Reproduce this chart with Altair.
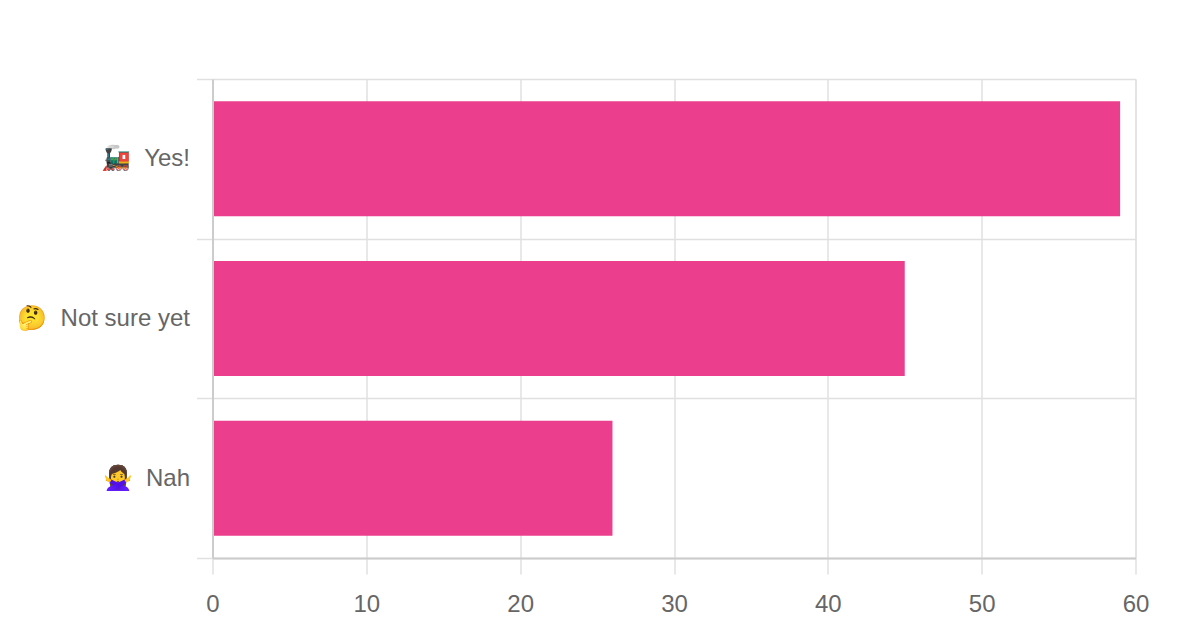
import altair as alt
import pandas as pd

labels = ["🚂\u00a0\u00a0Yes!", "🤔\u00a0\u00a0Not sure yet", "🙅‍♀️\u00a0\u00a0Nah"]
values = [59, 45, 26]
x_ticks = [0, 10, 20, 30, 40, 50, 60]
df = pd.DataFrame({"label": labels, "value": values})

font = "Liberation Sans"
grid = "#e0e0e0"
dom = "#cccccc"
x_scale = alt.Scale(domain=[0, 60], nice=False)
y_axis = alt.Axis(title=None, grid=True, gridColor=grid, gridWidth=1.5, tickBand="extent",
                  tickColor=grid, tickWidth=1.5, tickSize=16, domainColor=dom, domainWidth=2,
                  zindex=1, labelFontSize=24, labelColor="#666666", labelFont=font,
                  labelPadding=7, labelLimit=300)
y_enc = alt.Y("label:N", sort=labels, scale=alt.Scale(paddingInner=0, paddingOuter=0), axis=y_axis)

bars = alt.Chart(df).mark_bar(color="#EB3F8D", size=115).encode(
    x=alt.X("value:Q", scale=x_scale,
            axis=alt.Axis(values=x_ticks, title=None, grid=True, gridColor=grid, gridWidth=1.5,
                          domain=False, ticks=False, labels=False, zindex=0, orient="bottom")),
    y=y_enc,
)
axis_layer = alt.Chart(df).mark_bar(opacity=0, size=115).encode(
    x=alt.X("value:Q", scale=x_scale,
            axis=alt.Axis(values=x_ticks, title=None, grid=False, orient="bottom",
                          tickColor=grid, tickWidth=1.5, tickSize=16, domainColor=dom, domainWidth=2,
                          zindex=2, labelFontSize=24, labelColor="#666666", labelFont=font,
                          labelPadding=18, labelFlush=False)),
    y=y_enc,
)

chart = alt.layer(bars, axis_layer).resolve_axis(x="independent").properties(width=923, height=479)
chart = chart.configure_view(stroke=grid, strokeWidth=1.5).configure(
    padding={"left": 8.5, "top": 59, "right": 0, "bottom": 0})
chart.save("out.html", embed_options={"renderer": "svg", "actions": False})
